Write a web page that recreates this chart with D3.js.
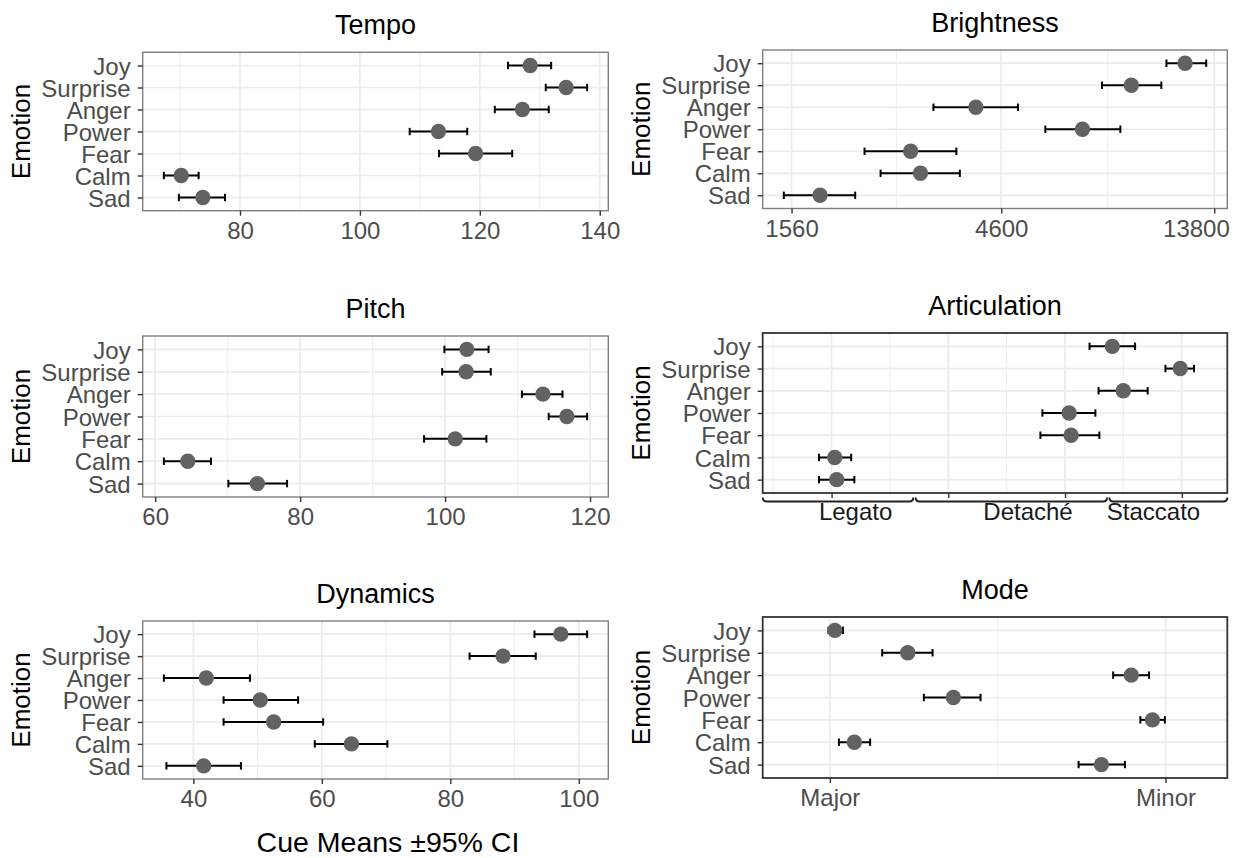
<!DOCTYPE html>
<html>
<head>
<meta charset="utf-8">
<script src="https://cdn.jsdelivr.net/npm/d3@7/dist/d3.min.js"></script>
<style>
  html, body { margin: 0; padding: 0; background: #ffffff; }
  svg { display: block; }
  text { font-family: "Liberation Sans", Arial, Helvetica, sans-serif; }
</style>
</head>
<body>
<svg id="chart" width="1236" height="858"></svg>
<script>
// ---------------- DATA ----------------
const emotions = ["Joy", "Surprise", "Anger", "Power", "Fear", "Calm", "Sad"];

const tempoMean = [128.4, 134.4, 127.1, 113.1, 119.3, 70.2, 73.8];
const tempoLow  = [124.7, 131.0, 122.5, 108.3, 113.2, 67.3, 69.8];
const tempoHigh = [131.9, 137.9, 131.5, 117.9, 125.4, 73.1, 77.5];
const tempoTicks = [80, 100, 120, 140];

const brightnessMean = [11873, 8998, 4036, 6994, 2883, 3033, 1807];
const brightnessLow  = [10785, 7736, 3242, 5775, 2273, 2469, 1499];
const brightnessHigh = [13238, 10504, 5017, 8504, 3650, 3716, 2166];
const brightnessTicks = [1560, 4600, 13800];

const pitchMean = [103.0, 102.9, 113.5, 116.8, 101.4, 64.5, 74.1];
const pitchLow  = [99.9, 99.6, 110.6, 114.3, 97.1, 61.2, 70.1];
const pitchHigh = [106.0, 106.3, 116.2, 119.6, 105.7, 67.7, 78.2];
const pitchTicks = [60, 80, 100, 120];

const articulationMean = [3.405, 3.987, 3.499, 3.035, 3.052, 1.027, 1.044];
const articulationLow  = [3.21, 3.86, 3.287, 2.806, 2.789, 0.892, 0.892];
const articulationHigh = [3.60, 4.105, 3.708, 3.26, 3.294, 1.168, 1.195];
const articulationTicks = [1, 2, 3, 4];
const articulationLimits = [0.41, 4.39];
const articulationGroups = ["Legato", "Detaché", "Staccato"];
const articulationGroupBounds = [[0.41, 1.70], [1.72, 3.36], [3.38, 4.39]];
const articulationGroupCenters = [1.206, 2.683, 3.758];

const dynamicsMean = [97.2, 88.2, 42.0, 50.4, 52.5, 64.6, 41.6];
const dynamicsLow  = [93.1, 83.0, 35.4, 44.7, 44.7, 58.9, 35.8];
const dynamicsHigh = [101.3, 93.3, 48.8, 56.3, 60.2, 70.2, 47.4];
const dynamicsTicks = [40, 60, 80, 100];

const modeMean = [0.015, 0.232, 0.898, 0.368, 0.961, 0.073, 0.809];
const modeLow  = [-0.004, 0.156, 0.844, 0.28, 0.925, 0.027, 0.741];
const modeHigh = [0.039, 0.306, 0.951, 0.449, 0.998, 0.12, 0.879];
const modeTicks = [0, 1];
const modeTickLabels = ["Major", "Minor"];
const modeLimits = [-0.2, 1.184];

const yTitle = "Emotion";
const xTitle = "Cue Means \u00B195% CI";

// ---------------- LAYOUT ----------------
const svg = d3.select("#chart");
const colL = [142.7, 608.3], colR = [762.7, 1227.3];

const panels = [
  { title: "Tempo", mean: tempoMean, low: tempoLow, high: tempoHigh, ticks: tempoTicks,
    type: "linear", x: colL, y: [52.3, 210.7], border: "light" },
  { title: "Brightness", mean: brightnessMean, low: brightnessLow, high: brightnessHigh, ticks: brightnessTicks,
    type: "log", x: colR, y: [50, 208.5], border: "light" },
  { title: "Pitch", mean: pitchMean, low: pitchLow, high: pitchHigh, ticks: pitchTicks,
    type: "linear", x: colL, y: [336, 497], border: "light" },
  { title: "Articulation", mean: articulationMean, low: articulationLow, high: articulationHigh, ticks: articulationTicks,
    type: "articulation", limits: articulationLimits, x: colR, y: [333, 493], border: "dark" },
  { title: "Dynamics", mean: dynamicsMean, low: dynamicsLow, high: dynamicsHigh, ticks: dynamicsTicks,
    type: "linear", x: colL, y: [621, 779], border: "light" },
  { title: "Mode", mean: modeMean, low: modeLow, high: modeHigh, ticks: modeTicks, tickLabels: modeTickLabels,
    type: "mode", limits: modeLimits, x: colR, y: [617, 778], border: "dark" }
];

const FS_TICK = 24, FS_TITLE = 27, FS_AXIS = 26, FS_BOTTOM = 28.5;
const FONT = "'Liberation Sans', Arial, Helvetica, sans-serif";

panels.forEach(p => {
  const [x0, x1] = p.x, [y0, y1] = p.y;
  let xs;
  if (p.type === "log") {
    const lo = Math.log10(d3.min(p.low)), hi = Math.log10(d3.max(p.high));
    const e = (hi - lo) * 0.05;
    xs = d3.scaleLog().domain([Math.pow(10, lo - e), Math.pow(10, hi + e)]).range([x0, x1]);
  } else if (p.limits) {
    xs = d3.scaleLinear().domain(p.limits).range([x0, x1]);
  } else {
    const lo = d3.min(p.low), hi = d3.max(p.high);
    const e = (hi - lo) * 0.05;
    xs = d3.scaleLinear().domain([lo - e, hi + e]).range([x0, x1]);
  }
  const ys = d3.scalePoint().domain(emotions).range([y0, y1]).padding(0.6);

  // minor breaks (midpoints between majors, extended by one step each side)
  const t = p.ticks;
  const minor = [];
  if (p.type === "log") {
    const lt = t.map(v => Math.log10(v));
    const st = lt[1] - lt[0];
    const ext = [lt[0] - st, ...lt, lt[lt.length - 1] + st];
    for (let i = 0; i < ext.length - 1; i++) minor.push(Math.pow(10, (ext[i] + ext[i + 1]) / 2));
  } else {
    const st = t[1] - t[0];
    const ext = [t[0] - st, ...t, t[t.length - 1] + st];
    for (let i = 0; i < ext.length - 1; i++) minor.push((ext[i] + ext[i + 1]) / 2);
  }
  const dom = xs.domain();
  const minorIn = minor.filter(v => v > dom[0] && v < dom[1]);

  const g = svg.append("g");
  g.append("rect").attr("x", x0).attr("y", y0).attr("width", x1 - x0).attr("height", y1 - y0).attr("fill", "#fff");

  // grid
  g.selectAll(".minor").data(minorIn).join("line")
    .attr("x1", d => xs(d)).attr("x2", d => xs(d)).attr("y1", y0).attr("y2", y1)
    .attr("stroke", "#EBEBEB").attr("stroke-width", 0.9);
  g.selectAll(".majx").data(t).join("line")
    .attr("x1", d => xs(d)).attr("x2", d => xs(d)).attr("y1", y0).attr("y2", y1)
    .attr("stroke", "#EBEBEB").attr("stroke-width", 1.7);
  g.selectAll(".majy").data(emotions).join("line")
    .attr("x1", x0).attr("x2", x1).attr("y1", d => ys(d)).attr("y2", d => ys(d))
    .attr("stroke", "#EBEBEB").attr("stroke-width", 1.7);

  // error bars
  const rows = emotions.map((e, i) => ({ e, m: p.mean[i], lo: p.low[i], hi: p.high[i] }));
  const capH = 3.7;
  const eb = g.append("g").attr("stroke", "#000").attr("stroke-width", 2.0).attr("fill", "none");
  eb.selectAll(".h").data(rows).join("line")
    .attr("x1", d => xs(d.lo)).attr("x2", d => xs(d.hi)).attr("y1", d => ys(d.e)).attr("y2", d => ys(d.e));
  eb.selectAll(".cl").data(rows).join("line")
    .attr("x1", d => xs(d.lo)).attr("x2", d => xs(d.lo)).attr("y1", d => ys(d.e) - capH).attr("y2", d => ys(d.e) + capH);
  eb.selectAll(".ch").data(rows).join("line")
    .attr("x1", d => xs(d.hi)).attr("x2", d => xs(d.hi)).attr("y1", d => ys(d.e) - capH).attr("y2", d => ys(d.e) + capH);

  // points
  g.selectAll(".pt").data(rows).join("circle")
    .attr("cx", d => xs(d.m)).attr("cy", d => ys(d.e)).attr("r", 7.7)
    .attr("fill", "#626262");

  // border
  g.append("rect").attr("x", x0).attr("y", y0).attr("width", x1 - x0).attr("height", y1 - y0)
    .attr("fill", "none")
    .attr("stroke", p.border === "dark" ? "#333333" : "#7F7F7F")
    .attr("stroke-width", p.border === "dark" ? 1.8 : 1.4);

  // y axis
  const yAx = g.append("g").attr("transform", `translate(${x0},0)`)
    .call(d3.axisLeft(ys).tickSize(5).tickPadding(7));
  yAx.select(".domain").remove();
  yAx.selectAll(".tick line").attr("stroke", "#333").attr("stroke-width", 1.4);
  yAx.selectAll(".tick text").attr("fill", "#4D4D4D").style("font-size", FS_TICK + "px")
    .style("font-family", FONT).attr("dy", "0.36em");

  // x axis
  let xAxis = d3.axisBottom(xs).tickValues(t).tickSize(5).tickPadding(6);
  if (p.type === "log") xAxis = xAxis.tickFormat(d => String(d));
  else if (p.type === "mode") xAxis = xAxis.tickFormat((d, i) => p.tickLabels[i]);
  else if (p.type === "articulation") xAxis = xAxis.tickFormat(() => "");
  else xAxis = xAxis.tickFormat(d3.format("d"));
  const xAx = g.append("g").attr("transform", `translate(0,${y1})`).call(xAxis);
  xAx.select(".domain").remove();
  xAx.selectAll(".tick line").attr("stroke", "#333").attr("stroke-width", 1.4);
  xAx.selectAll(".tick text").attr("fill", "#4D4D4D").style("font-size", FS_TICK + "px")
    .style("font-family", FONT);
  if (p.type === "log") {
    // last label sits flush with the panel's right edge, as in the reference
    xAx.selectAll(".tick text").filter((d, i, n) => i === n.length - 1)
      .attr("text-anchor", "end").attr("x", x1 + 2 - xs(t[t.length - 1]));
  }

  if (p.type === "articulation") {
    const by = y1 + 8.5;
    const br = g.append("g").attr("stroke", "#222").attr("stroke-width", 1.9).attr("fill", "none");
    br.selectAll("path").data(articulationGroupBounds).join("path")
      .attr("d", d => {
        const a = xs(d[0]), b = xs(d[1]);
        return `M${a},${by - 4} Q${a},${by} ${a + 4},${by} L${b - 4},${by} Q${b},${by} ${b},${by - 4}`;
      });
    g.selectAll(".grp").data(articulationGroups).join("text")
      .attr("x", (d, i) => xs(articulationGroupCenters[i])).attr("y", y1 + 27)
      .attr("text-anchor", "middle").attr("fill", "#1a1a1a")
      .style("font-size", FS_TICK + "px").text(d => d);
  }

  // title
  g.append("text").attr("x", (x0 + x1) / 2).attr("y", y0 - 18.5)
    .attr("text-anchor", "middle").attr("fill", "#000")
    .style("font-size", FS_TITLE + "px").text(p.title);

  // y title
  const tx = x0 === colL[0] ? 30 : 650;
  g.append("text").attr("transform", `translate(${tx},${(y0 + y1) / 2}) rotate(-90)`)
    .attr("text-anchor", "middle").attr("fill", "#000")
    .style("font-size", FS_AXIS + "px").text(yTitle);
});

// x title
svg.append("text").attr("x", 388).attr("y", 852).attr("text-anchor", "middle")
  .attr("fill", "#000").style("font-size", FS_BOTTOM + "px").text(xTitle);
</script>
</body>
</html>
